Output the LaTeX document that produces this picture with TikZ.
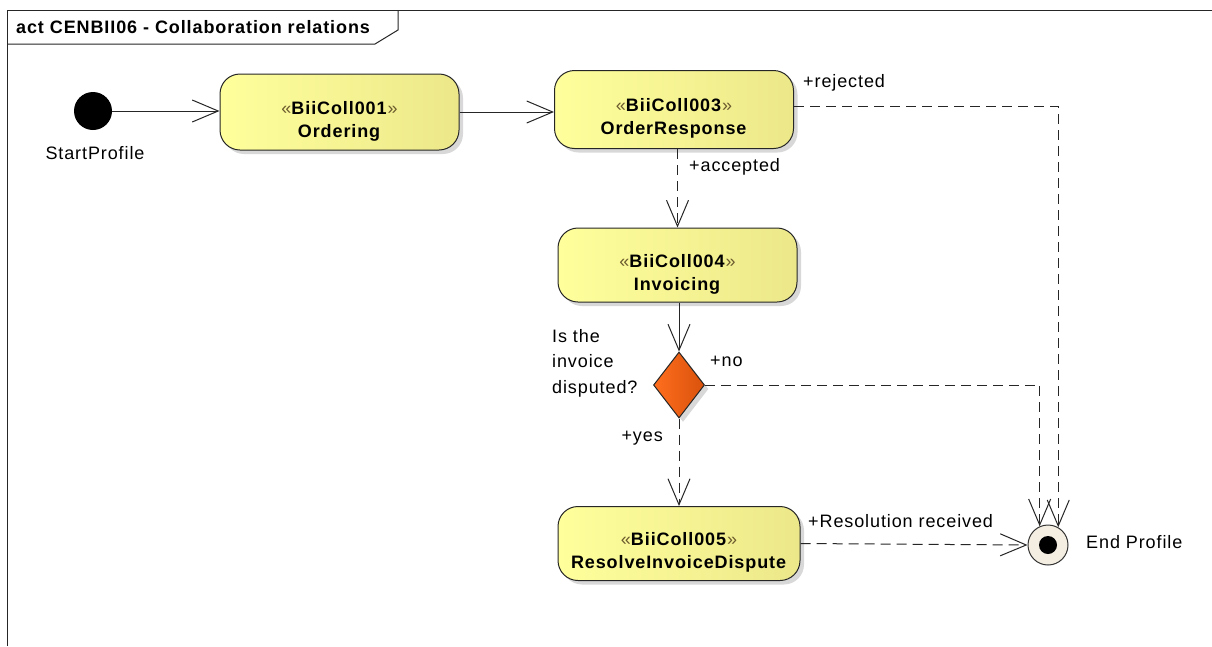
\documentclass[tikz,border=0pt]{standalone}
\usepackage{fontspec}
\setmainfont{Liberation Sans}[LetterSpace=5]
\usetikzlibrary{arrows.meta,shapes.geometric,shadows}
\definecolor{boxL}{HTML}{FFFF9C}
\definecolor{boxR}{HTML}{ECE88A}
\definecolor{decL}{HTML}{FF6E1E}
\definecolor{decR}{HTML}{D9520C}
\definecolor{endF}{HTML}{F4EEE2}
\definecolor{guil}{HTML}{6B5A2E}
\newcommand{\stereo}[1]{\textcolor{guil}{«}\textbf{#1}\textcolor{guil}{»}}
\begin{document}
\begin{tikzpicture}[x=1pt,y=-1pt,
  txt/.style={font=\fontsize{18}{22}\selectfont, inner sep=0pt},
  activity/.style={draw=black!85, line width=1pt, rounded corners=20pt,
    minimum width=239pt, minimum height=76pt, inner sep=0pt,
    left color=boxL, right color=boxR,
    drop shadow={opacity=0.3,shadow xshift=4pt,shadow yshift=-4pt}},
  acttext/.style={yshift=-9pt, align=center, inner sep=0pt,
    font=\fontsize{18}{23}\selectfont},
  flow/.style={line width=1pt, black!85},
  guard/.style={flow, dash pattern=on 10pt off 6pt},
  arr/.style={-{Straight Barb[length=26pt,width=22pt]}}
]
\useasboundingbox (0,0) rectangle (1212,646);
\fill[white] (0,0) rectangle (1212,646);

% frame
\draw[line width=1pt, black!85] (7,646) -- (7,10) -- (1212,10);
\draw[line width=1pt, black!85] (7,44) -- (375,44) -- (398,30) -- (398,10);
\node[txt, anchor=west, font=\bfseries\fontsize{18}{22}\selectfont] (title) at (16,27) {act CENBII06 - Collaboration relations};

% nodes
\node[circle, fill=black, minimum size=38pt, inner sep=0pt] (start) at (93,111) {};
\node[txt] (startlbl) at (95,153) {StartProfile};

\node[activity] (ordering) at (339.5,112)
  [label={[acttext]center:{\stereo{BiiColl001}\\\textbf{Ordering}}}] {};
\node[activity, minimum height=78pt] (orderresp) at (674,109.5)
  [label={[acttext]center:{\stereo{BiiColl003}\\\textbf{OrderResponse}}}] {};
\node[activity, minimum height=74pt] (invoicing) at (677.5,265)
  [label={[acttext]center:{\stereo{BiiColl004}\\\textbf{Invoicing}}}] {};
\node[activity, minimum width=242pt, minimum height=74pt] (resolve) at (679,543.5)
  [label={[acttext]center:{\stereo{BiiColl005}\\\textbf{ResolveInvoiceDispute}}}] {};

\node[diamond, draw=black!85, line width=1pt, minimum width=51pt, minimum height=66pt,
  inner sep=0pt, left color=decL, right color=decR,
  drop shadow={opacity=0.3,shadow xshift=4pt,shadow yshift=-4pt}] (decision) at (679,385) {};
\node[txt, anchor=west, align=left, font=\fontsize{18}{25.5}\selectfont] (question) at (552,363)
  {Is the\\invoice\\disputed?};

\node[circle, draw=black!80, line width=1pt, fill=endF, minimum size=40pt, inner sep=0pt,
  path picture={\fill[black] (path picture bounding box.center) circle (9pt);}] (end) at (1048,545) {};
\node[txt, anchor=west] (endlbl) at (1086,542) {End Profile};

% connectors
\draw[flow, arr] (start.east) -- (start.east -| ordering.west);
\draw[flow, arr] (ordering.east) -- (ordering.east -| orderresp.west);
\draw[guard, arr] ([yshift=3pt]orderresp.east) -| (end.60);
\node[txt, anchor=west] (rejlbl) at (803,83) {+rejected};
\draw[guard, arr] (orderresp.south -| invoicing.north) -- (invoicing.north);
\node[txt, anchor=west] (acclbl) at (689,167) {+accepted};
\draw[flow, arr] (invoicing.south -| decision.north) -- (decision.north);
\draw[guard, arr] (decision.east) -| (end.114);
\node[txt, anchor=west] (nolbl) at (710,361) {+no};
\draw[guard, arr] (decision.south) -- (resolve.north -| decision.south);
\node[txt, anchor=east] (yeslbl) at (663,438) {+yes};
\draw[guard, arr] (resolve.east) -- (end.west);
\node[txt, anchor=west] (reslbl) at (808,521) {+Resolution received};
\end{tikzpicture}
\end{document}
